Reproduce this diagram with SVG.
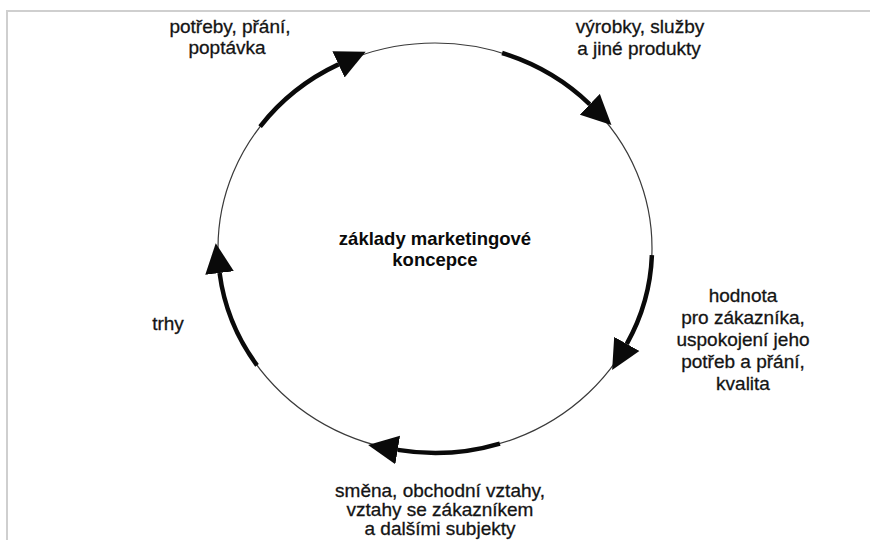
<svg xmlns="http://www.w3.org/2000/svg" width="870" height="540" viewBox="0 0 870 540">
  <style>
    .lbl { font-family: "Liberation Sans", Arial, sans-serif; font-size: 19px; fill: #141414; stroke: #141414; stroke-width: 0.3; text-anchor: middle; }
    .title { font-family: "Liberation Sans", Arial, sans-serif; font-size: 18.5px; font-weight: bold; fill: #0a0a0a; text-anchor: middle; }
    .ring { fill: none; stroke: #3a3a3a; stroke-width: 1.2; }
    .flow { fill: none; stroke: #0a0a0a; stroke-width: 4.5; stroke-linecap: butt; marker-end: url(#head); }
    .frame { fill: none; stroke: #cfcfcf; stroke-width: 2; }
  </style>
  <defs>
    <marker id="head" markerUnits="userSpaceOnUse" markerWidth="30" markerHeight="30" refX="0" refY="13" orient="auto" viewBox="0 0 27 26">
      <path d="M0,0 L27,13 L0,26 z" fill="#0a0a0a"/>
    </marker>
  </defs>

  <rect width="870" height="540" fill="#ffffff"/>
  <!-- page frame -->
  <polyline class="frame" points="7,540 7,11 870,11"/>

  <!-- the cycle ring -->
  <g id="ring">
    <ellipse class="ring" cx="435" cy="248" rx="217" ry="205"/>
  </g>

  <!-- clockwise flow arcs -->
  <g id="connectors">
    <path class="flow" d="M260.1,126.6 A217,205 0 0,1 338.5,64.4"/>
    <path class="flow" d="M502.1,53.0 A217,205 0 0,1 589.8,104.3"/>
    <path class="flow" d="M651.9,255.2 A217,205 0 0,1 626.8,343.9"/>
    <path class="flow" d="M499.9,443.6 A217,205 0 0,1 397.7,449.9"/>
    <path class="flow" d="M257.0,365.3 A217,205 0 0,1 219.6,273.0"/>
  </g>

  <g id="center">
    <text class="title" x="435" y="245">základy marketingové</text>
    <text class="title" x="435" y="266">koncepce</text>
  </g>

  <g id="needs">
    <text class="lbl" x="230" y="33">potřeby, přání,</text>
    <text class="lbl" x="227" y="54">poptávka</text>
  </g>

  <g id="products">
    <text class="lbl" x="640" y="33">výrobky, služby</text>
    <text class="lbl" x="639" y="55">a jiné produkty</text>
  </g>

  <g id="value">
    <text class="lbl" x="743" y="302">hodnota</text>
    <text class="lbl" x="743" y="324">pro zákazníka,</text>
    <text class="lbl" x="743" y="346">uspokojení jeho</text>
    <text class="lbl" x="743" y="368">potřeb a přání,</text>
    <text class="lbl" x="743" y="390">kvalita</text>
  </g>

  <g id="exchange">
    <text class="lbl" x="440" y="497">směna, obchodní vztahy,</text>
    <text class="lbl" x="440" y="516">vztahy se zákazníkem</text>
    <text class="lbl" x="440" y="535">a dalšími subjekty</text>
  </g>

  <g id="markets">
    <text class="lbl" x="168" y="330">trhy</text>
  </g>
</svg>
